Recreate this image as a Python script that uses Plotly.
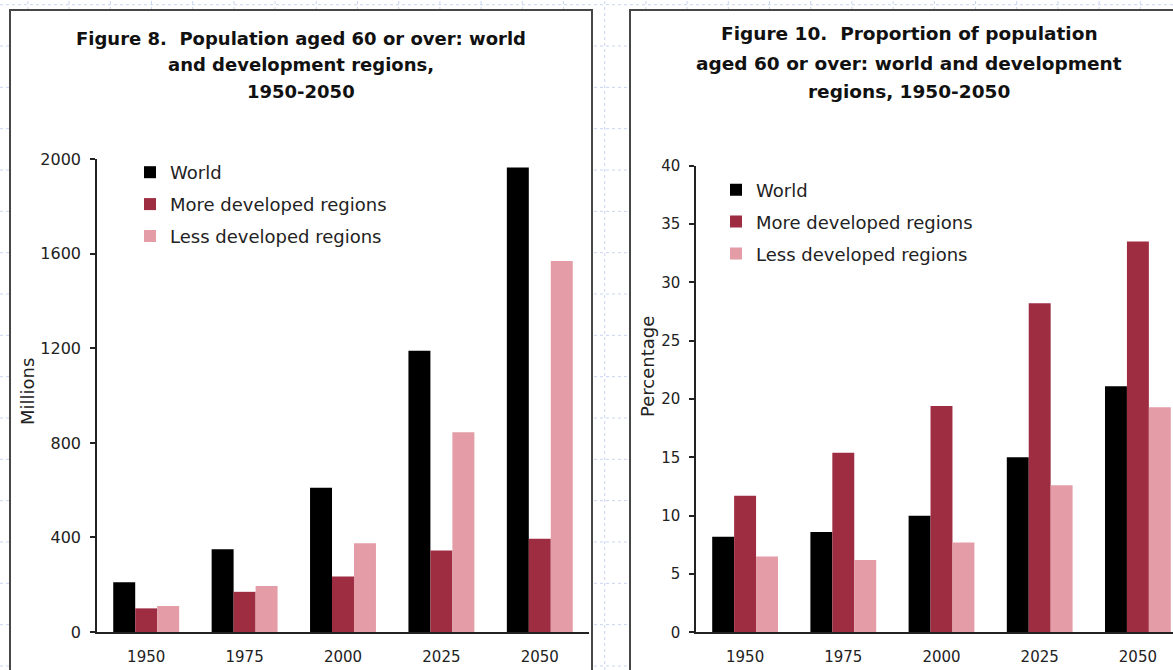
import plotly.graph_objects as go

W, H = 1173, 670

# ---------------- data ----------------
years = ["1950", "1975", "2000", "2025", "2050"]
series_names = ["World", "More developed regions", "Less developed regions"]
series_colors = ["#000000", "#9E2D42", "#E49CA7"]

# Figure 8: population aged 60 or over (millions)
pop_world = [210, 350, 610, 1190, 1965]
pop_more = [100, 170, 235, 345, 395]
pop_less = [110, 195, 375, 845, 1570]
pop_ticks = [0, 400, 800, 1200, 1600, 2000]

# Figure 10: proportion aged 60 or over (percentage)
pct_world = [8.2, 8.6, 10.0, 15.0, 21.1]
pct_more = [11.7, 15.4, 19.4, 28.2, 33.5]
pct_less = [6.5, 6.2, 7.7, 12.6, 19.3]
pct_ticks = [0, 5, 10, 15, 20, 25, 30, 35, 40]

title_left = ["Figure 8.  Population aged 60 or over: world",
              "and development regions,",
              "1950-2050"]
title_right = ["Figure 10.  Proportion of population",
               "aged 60 or over: world and development",
               "regions, 1950-2050"]

FONT = "DejaVu Sans"
TXT = "#222222"


def px(x):
    return x / W


def py(y):
    return 1 - y / H


fig = go.Figure()

for name, col, vals in zip(series_names, series_colors, [pop_world, pop_more, pop_less]):
    fig.add_trace(go.Bar(x=years, y=vals, name=name, marker=dict(color=col, line=dict(width=0)),
                         xaxis="x", yaxis="y", legend="legend", legendgroup="L" + name))

for name, col, vals in zip(series_names, series_colors, [pct_world, pct_more, pct_less]):
    fig.add_trace(go.Bar(x=years, y=vals, name=name, marker=dict(color=col, line=dict(width=0)),
                         xaxis="x2", yaxis="y2", legend="legend2", legendgroup="R" + name))

# ---------------- background (sheet grid + panel boxes) ----------------
shapes = []
vpath = ""
x = 27.9
while x < W + 5:
    vpath += f"M{px(x):.5f},0 L{px(x):.5f},1 "
    x += 41.2
hpath = ""
y = 4.7
while y < H + 5:
    hpath += f"M0,{py(y):.5f} L1,{py(y):.5f} "
    y += 41.33
for p in (vpath, hpath):
    shapes.append(dict(type="path", xref="paper", yref="paper", path=p, layer="below",
                       line=dict(color="#C9D5F2", width=1, dash="dot")))
shapes.append(dict(type="rect", xref="paper", yref="paper", x0=px(10), x1=px(592), y0=-0.1, y1=py(10),
                   fillcolor="white", line=dict(color="#474747", width=2), layer="below"))
shapes.append(dict(type="rect", xref="paper", yref="paper", x0=px(630), x1=1.1, y0=-0.1, y1=py(10),
                   fillcolor="white", line=dict(color="#474747", width=2), layer="below"))

# ---------------- titles ----------------
annotations = []
for txt, yy in zip(title_left, [39, 65, 91.5]):
    annotations.append(dict(text=f"<b>{txt}</b>", x=px(301), y=py(yy), xref="paper", yref="paper",
                            xanchor="center", yanchor="middle", showarrow=False,
                            font=dict(family=FONT, size=18, color="#111111")))
for txt, yy in zip(title_right, [34, 63, 92]):
    annotations.append(dict(text=f"<b>{txt}</b>", x=px(909), y=py(yy), xref="paper", yref="paper",
                            xanchor="center", yanchor="middle", showarrow=False,
                            font=dict(family=FONT, size=18.5, color="#111111")))
annotations.append(dict(text="Millions", x=px(27), y=py(392), xref="paper", yref="paper", textangle=-90,
                        xanchor="center", yanchor="middle", showarrow=False,
                        font=dict(family=FONT, size=18, color=TXT)))
annotations.append(dict(text="Percentage", x=px(647), y=py(367), xref="paper", yref="paper", textangle=-90,
                        xanchor="center", yanchor="middle", showarrow=False,
                        font=dict(family=FONT, size=18, color=TXT)))

axis_common = dict(showline=True, linecolor="#222222", linewidth=1.5, showgrid=False, zeroline=False,
                   tickfont=dict(family=FONT, size=15, color=TXT))

fig.update_layout(
    width=W, height=H,
    margin=dict(l=0, r=0, t=0, b=0, autoexpand=False),
    paper_bgcolor="white", plot_bgcolor="rgba(0,0,0,0)",
    barmode="group", bargap=0.33, bargroupgap=0,
    font=dict(family=FONT, color=TXT),
    shapes=shapes, annotations=annotations,
    xaxis=dict(axis_common, domain=[px(97), px(589)], anchor="y", type="category",
               range=[-0.5, 4.5], ticks="", ticklabelstandoff=10),
    yaxis=dict(axis_common, domain=[py(632), py(159.3)], anchor="x", range=[0, 2000],
               tickvals=pop_ticks, ticks="outside", ticklen=5, tickwidth=1.5, tickcolor="#222222",
               ticklabelstandoff=6, tickfont=dict(family=FONT, size=16, color=TXT)),
    xaxis2=dict(axis_common, domain=[px(696), 1], anchor="y2", type="category",
                range=[-0.5, -0.5 + (W - 696) / 98.2], ticks="", ticklabelstandoff=10),
    yaxis2=dict(axis_common, domain=[py(632.3), py(165.7)], anchor="x2", range=[0, 40],
                tickvals=pct_ticks, ticks="outside", ticklen=5, tickwidth=1.5, tickcolor="#222222",
                ticklabelstandoff=6),
    legend=dict(x=px(130), y=py(154), xanchor="left", yanchor="top", bgcolor="rgba(0,0,0,0)",
                font=dict(family=FONT, size=18, color=TXT), tracegroupgap=5.5, itemclick=False),
    legend2=dict(x=px(716), y=py(171.5), xanchor="left", yanchor="top", bgcolor="rgba(0,0,0,0)",
                 font=dict(family=FONT, size=18, color=TXT), tracegroupgap=5.5, itemclick=False),
)

# remove the browser's default 8px page margin so the figure sits at the window origin
fig.write_html("out.html", config={"displayModeBar": False},
               post_script="document.body.style.margin='0';")
